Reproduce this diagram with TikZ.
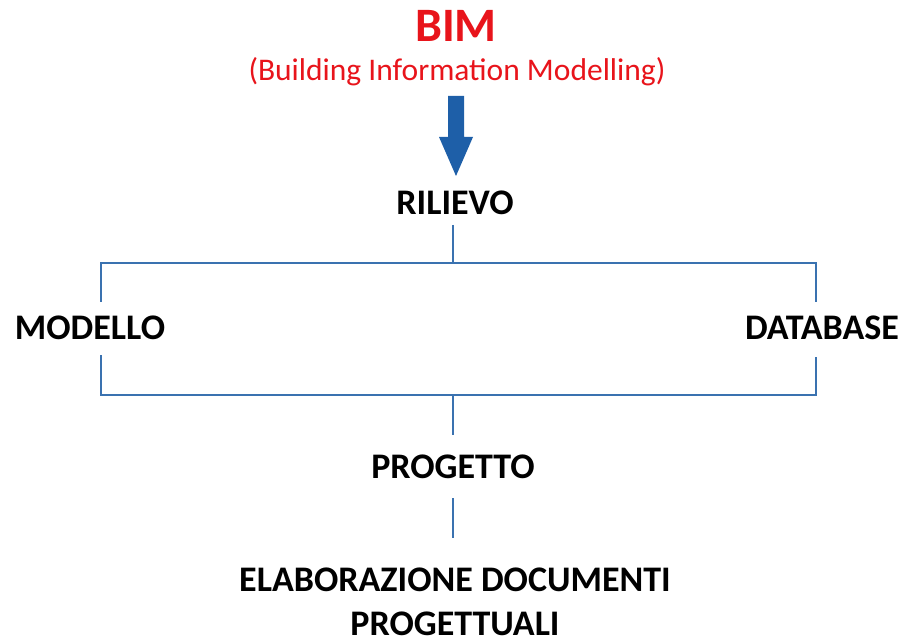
\documentclass[tikz,border=0pt]{standalone}
\usepackage{fontspec}
\setmainfont{Carlito}
\definecolor{linec}{HTML}{3A72B0}
\definecolor{arrowc}{HTML}{1E5FA8}
\definecolor{bimred}{HTML}{E8141B}
\begin{document}
\begin{tikzpicture}[x=1pt,y=-1pt,
  lbl/.style={font=\fontsize{36}{38}\selectfont\bfseries, text=black, inner sep=0pt, anchor=center},
  conn/.style={draw=linec, line width=2.4pt}]
\useasboundingbox (0,0) rectangle (918,644);
\node[font=\fontsize{48}{50}\selectfont\bfseries, text=bimred, inner sep=0pt] (bim) at (456,26) {BIM};
\node[font=\fontsize{31.5}{33}\selectfont, text=bimred, inner sep=0pt] (bimsub) at (457,72) {(Building Information Modelling)};
\fill[arrowc] (448,96) -- (464,96) -- (464,137) -- (473,137) -- (456,176) -- (439,137) -- (448,137) -- cycle;
\node[lbl] (ril) at (455,203) {RILIEVO};
\node[lbl] (mod) at (90,328) {MODELLO};
\node[lbl] (db) at (822,328) {DATABASE};
\node[lbl] (prog) at (453,467) {PROGETTO};
\node[lbl, align=center, font=\fontsize{36}{44}\selectfont\bfseries] (elab) at (455,602) {ELABORAZIONE DOCUMENTI\\PROGETTUALI};
\coordinate (tl) at (101,263);
\coordinate (tr) at (816,263);
\coordinate (bl) at (101,395);
\coordinate (br) at (816,395);
\coordinate (tm) at (453,263);
\coordinate (bm) at (453,395);
\draw[conn] (453,225) -- (tm);
\draw[conn] (101,302) -- (tl) -- (tr) -- (816,302);
\draw[conn] (101,355) -- (bl) -- (br) -- (816,357);
\draw[conn] (bm) -- (453,435);
\draw[conn] (453,498) -- (453,538);
\end{tikzpicture}
\end{document}
